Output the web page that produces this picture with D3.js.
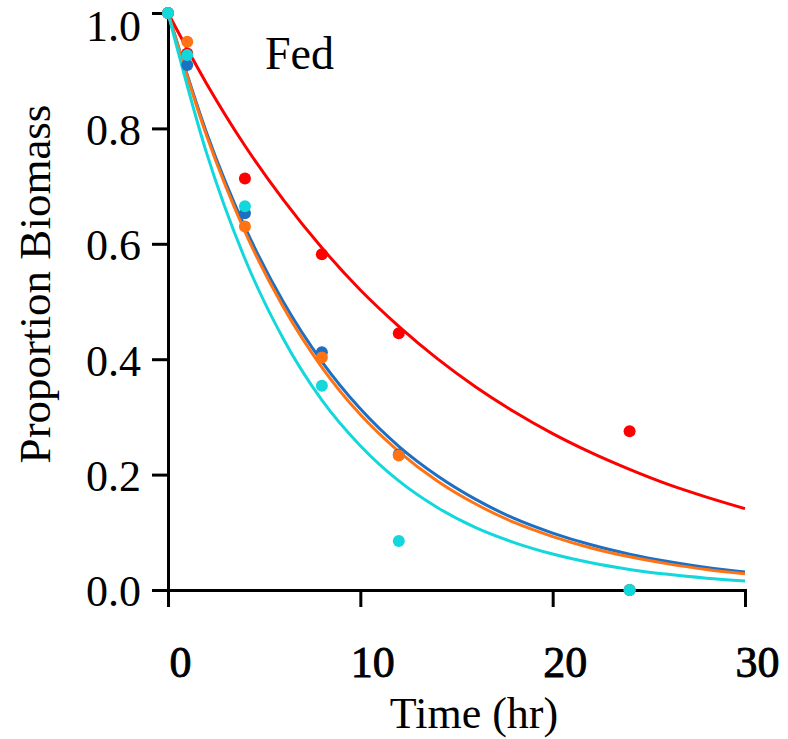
<!DOCTYPE html>
<html>
<head>
<meta charset="utf-8">
<script src="https://cdn.jsdelivr.net/npm/d3@7"></script>
<style>
  body { margin: 0; background: #fff; }
  text { font-family: "Liberation Serif", "Times New Roman", serif; fill: #000; }
</style>
</head>
<body>
<div id="chart"></div>
<script>
// sampling times (hr) for the observed points
var times = [0, 1, 4, 8, 12, 24];

var redPts    = [1.0, 0.93, 0.713, 0.582, 0.445, 0.275];
var bluePts   = [1.0, 0.91, 0.653, 0.412, 0.235, 0.0];
var orangePts = [1.0, 0.95, 0.630, 0.403, 0.233, 0.0];
var cyanPts   = [1.0, 0.927, 0.665, 0.354, 0.085, 0.0];

// fitted curves, every 2 hours
var curveTimes = [0, 2, 4, 6, 8, 10, 12, 14, 16, 18, 20, 22, 24, 26, 28, 30];
var redFit    = [1, 0.878, 0.770, 0.676, 0.593, 0.520, 0.457, 0.401, 0.352, 0.309, 0.271, 0.238, 0.209, 0.183, 0.161, 0.141];
var blueFit   = [1, 0.793, 0.629, 0.499, 0.396, 0.314, 0.249, 0.198, 0.157, 0.124, 0.0987, 0.0783, 0.0621, 0.0493, 0.0391, 0.031];
var orangeFit = [1, 0.788, 0.621, 0.490, 0.386, 0.304, 0.240, 0.189, 0.149, 0.117, 0.0926, 0.0729, 0.0575, 0.0453, 0.0357, 0.0282];
var cyanFit   = [1, 0.758, 0.574, 0.435, 0.329, 0.250, 0.189, 0.143, 0.108, 0.0822, 0.0623, 0.0472, 0.0357, 0.0271, 0.0205, 0.0155];

var xTicks = [0, 10, 20, 30];
var yTicks = [0, 0.2, 0.4, 0.6, 0.8, 1.0];

function init() {
    var w = 788, h = 739;
    var left = 168, top = 13, right = 745, bottom = 590;

    var svg = d3.select("#chart").append("svg")
        .attr("width", w)
        .attr("height", h);

    var xScale = d3.scaleLinear().domain([0, 30]).range([left, right]);
    var yScale = d3.scaleLinear().domain([0, 1]).range([bottom, top]);

    // axes
    var xAxis = d3.axisBottom(xScale)
        .tickValues(xTicks)
        .tickSize(17)
        .tickSizeOuter(17)
        .tickPadding(40)
        .tickFormat(d3.format("d"));

    var yAxis = d3.axisLeft(yScale)
        .tickValues(yTicks)
        .tickSize(16)
        .tickSizeOuter(16)
        .tickPadding(11)
        .tickFormat(d3.format(".1f"));

    var gx = svg.append("g")
        .attr("transform", "translate(0," + bottom + ")")
        .call(xAxis);
    gx.selectAll("path, line").attr("stroke", "#000").attr("stroke-width", 3);
    gx.selectAll("text")
        .attr("font-size", 44)
        .attr("stroke", "#000")
        .attr("stroke-width", 0.9)
        .attr("dx", 12)
        .attr("dy", "0.68em")
        .style("font-family", '"Liberation Serif", serif');

    var gy = svg.append("g")
        .attr("transform", "translate(" + left + ",0)")
        .call(yAxis);
    gy.selectAll("path, line").attr("stroke", "#000").attr("stroke-width", 3);
    gy.selectAll("text")
        .attr("font-size", 44)
        .style("font-family", '"Liberation Serif", serif')
        .attr("dy", function(d) { return d === 1 ? "0.62em" : "0.36em"; });
    gx.select(".domain").raise();

    // axis titles
    svg.append("text")
        .attr("x", 474)
        .attr("y", 728)
        .attr("text-anchor", "middle")
        .attr("font-size", 44)
        .text("Time (hr)");

    svg.append("text")
        .attr("transform", "translate(50,284) rotate(-90)")
        .attr("text-anchor", "middle")
        .attr("font-size", 45)
        .text("Proportion Biomass");

    svg.append("text")
        .attr("x", 265)
        .attr("y", 69)
        .attr("font-size", 46)
        .text("Fed");

    // fitted curves
    var line = d3.line()
        .x(function(d) { return xScale(d[0]); })
        .y(function(d) { return yScale(d[1]); })
        .curve(d3.curveMonotoneX);

    var fits = [
        [redFit, "#ff0000"],
        [blueFit, "#1c6fc2"],
        [orangeFit, "#ff7314"],
        [cyanFit, "#12d8dc"]
    ];
    fits.forEach(function(f) {
        svg.append("path")
            .datum(curveTimes.map(function(t, i) { return [t, f[0][i]]; }))
            .attr("d", line)
            .attr("fill", "none")
            .attr("stroke", f[1])
            .attr("stroke-width", 3);
    });

    // observed points
    var pts = [
        [redPts, "#ff0000"],
        [bluePts, "#1c6fc2"],
        [orangePts, "#ff7314"],
        [cyanPts, "#12d8dc"]
    ];
    pts.forEach(function(p) {
        svg.append("g").selectAll("circle")
            .data(times.map(function(t, i) { return [t, p[0][i]]; }))
            .enter()
            .append("circle")
            .attr("cx", function(d) { return xScale(d[0]); })
            .attr("cy", function(d) { return yScale(d[1]); })
            .attr("r", 6)
            .attr("fill", p[1]);
    });
}

window.onload = init;
</script>
</body>
</html>
